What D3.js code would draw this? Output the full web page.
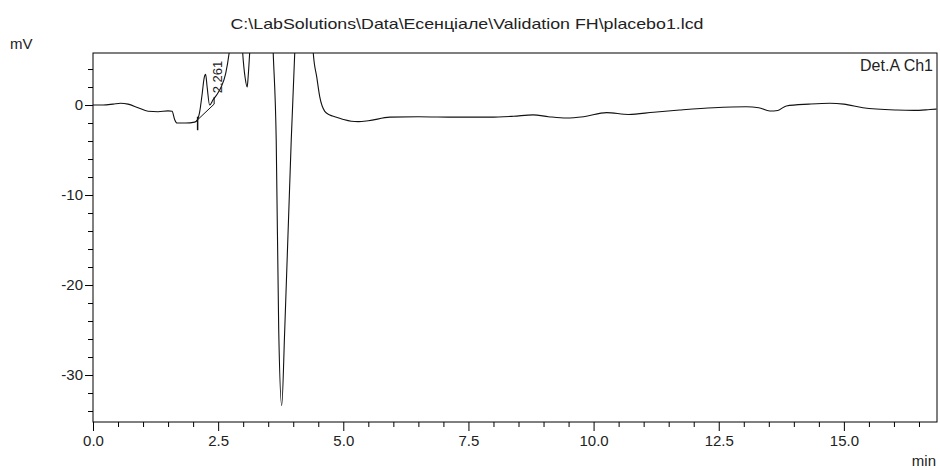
<!DOCTYPE html>
<html>
<head>
<meta charset="utf-8">
<script src="https://cdn.jsdelivr.net/npm/d3@7"></script>
<style>
    body { margin: 0; background: #fff; }
    svg { display: block; font-family: "Liberation Sans", Arial, sans-serif; }
</style>
</head>
<body>
<div id="chart"></div>
<script>
// chromatogram trace (min, mV)
var times = [0.00, 0.20, 0.40, 0.55, 0.70, 0.90, 1.10, 1.30, 1.50, 1.58, 1.63, 1.68, 1.85, 2.03, 2.08,
    2.13, 2.18, 2.22, 2.25, 2.28, 2.33, 2.40, 2.48, 2.56, 2.65, 2.72, 2.80, 2.88, 2.95, 2.99,
    3.04, 3.08, 3.10, 3.13, 3.20, 3.35, 3.50, 3.56, 3.60, 3.66, 3.71, 3.77, 3.83, 3.96, 4.03,
    4.08, 4.20, 4.33, 4.40, 4.47, 4.53, 4.63, 4.73, 4.83, 5.00, 5.16, 5.30, 5.50, 5.93, 6.50,
    7.26, 7.93, 8.40, 8.79, 9.10, 9.46, 9.80, 10.26, 10.70, 11.20, 11.72, 12.40, 13.05, 13.30, 13.52,
    13.68, 13.85, 14.30, 14.72, 15.00, 15.38, 16.05, 16.40, 16.72, 16.85];
var signal = [0.0, 0.0, 0.1, 0.2, 0.1, -0.3, -0.7, -0.75, -0.65, -0.7, -1.6, -2.0, -2.0, -1.9, -1.7,
    -0.8, 1.2, 3.0, 3.4, 2.0, 0.0, 0.6, 1.2, 2.0, 3.5, 5.8, 10, 16, 10, 5.8,
    3.0, 2.0, 3.2, 5.8, 12, 20, 20, 12, 5.8, -3.9, -25, -33.4, -25, -3.9, 5.8,
    14, 20, 14, 5.8, 3.1, 0.9, -0.7, -1.1, -1.3, -1.6, -1.8, -1.85, -1.75, -1.35, -1.3,
    -1.35, -1.35, -1.25, -1.1, -1.3, -1.45, -1.3, -0.85, -1.05, -0.8, -0.56, -0.3, -0.19, -0.3, -0.67,
    -0.6, -0.1, 0.1, 0.2, 0.1, -0.3, -0.56, -0.6, -0.5, -0.45];

var xMajor = [0, 2.5, 5, 7.5, 10, 12.5, 15];
var xMinor = d3.range(0.5, 16.75, 0.5);
var yMajor = [0, -10, -20, -30];
var yMinor = d3.range(4, -35, -2);

var peakTimes = [2.261];
var peakBase = [[2.05, -1.85], [2.42, 0.1]];

var titleText = "C:\\LabSolutions\\Data\\Есенціале\\Validation FH\\placebo1.lcd";

var W = 940, H = 470;
var plot = {left: 93, right: 937, top: 53, bottom: 422};

var x = d3.scaleLinear().domain([0, 16.86]).range([plot.left, plot.right]);
var y = d3.scaleLinear().domain([-35.22, 5.78]).range([plot.bottom, plot.top]);

var svg = d3.select("#chart").append("svg")
    .attr("width", W)
    .attr("height", H);

svg.append("defs").append("clipPath").attr("id", "clip")
    .append("rect")
    .attr("x", plot.left).attr("y", plot.top)
    .attr("width", plot.right - plot.left).attr("height", plot.bottom - plot.top);

// axes
var xAxis = svg.append("g").attr("transform", "translate(0," + plot.bottom + ")")
    .call(d3.axisBottom(x).tickValues(xMajor).tickFormat(d3.format(".1f")).tickSize(9).tickSizeOuter(0));
svg.append("g").attr("transform", "translate(0," + plot.bottom + ")")
    .call(d3.axisBottom(x).tickValues(xMinor.filter(function(d) { return d % 2.5 !== 0; }))
        .tickFormat("").tickSize(5).tickSizeOuter(0))
    .select(".domain").remove();

var yAxis = svg.append("g").attr("transform", "translate(" + plot.left + ",0)")
    .call(d3.axisLeft(y).tickValues(yMajor).tickFormat(function(d) { return String(d); })
        .tickSize(8).tickSizeOuter(0));
svg.append("g").attr("transform", "translate(" + plot.left + ",0)")
    .call(d3.axisLeft(y).tickValues(yMinor.filter(function(d) { return d % 10 !== 0; }))
        .tickFormat("").tickSize(5).tickSizeOuter(0))
    .select(".domain").remove();

svg.selectAll(".tick line, .domain").attr("stroke", "#000");
xAxis.selectAll("text").attr("font-size", 15).attr("fill", "#222")
    .attr("y", 13).attr("dy", "0.71em");
yAxis.selectAll("text").attr("font-size", 15).attr("fill", "#222").attr("x", -10);
xAxis.select(".domain").remove();
yAxis.select(".domain").remove();

// frame
svg.append("rect")
    .attr("x", plot.left).attr("y", plot.top)
    .attr("width", plot.right - plot.left).attr("height", plot.bottom - plot.top)
    .attr("fill", "none")
    .attr("stroke", "#000")
    .attr("stroke-width", 1);

// trace
var pts = times.map(function(t, i) { return [t, signal[i]]; });
var line = d3.line()
    .x(function(d) { return x(d[0]); })
    .y(function(d) { return y(d[1]); })
    .curve(d3.curveMonotoneX);

var g = svg.append("g").attr("clip-path", "url(#clip)");
g.append("path")
    .datum(pts)
    .attr("d", line)
    .attr("fill", "none")
    .attr("stroke", "#111")
    .attr("stroke-width", 1.1);

// integration baseline and peak marks
g.append("path")
    .datum(peakBase)
    .attr("d", d3.line().x(function(d) { return x(d[0]); }).y(function(d) { return y(d[1]); }))
    .attr("fill", "none")
    .attr("stroke", "#111")
    .attr("stroke-width", 1);
g.append("line")
    .attr("x1", x(peakBase[0][0]) + 2).attr("x2", x(peakBase[0][0]) + 2)
    .attr("y1", y(-1.3)).attr("y2", y(-2.8))
    .attr("stroke", "#111")
    .attr("stroke-width", 1.5);
g.append("line")
    .attr("x1", x(peakBase[1][0])).attr("x2", x(peakBase[1][0]))
    .attr("y1", y(0.1)).attr("y2", y(0.9))
    .attr("stroke", "#111");

svg.selectAll(".peak-label")
    .data(peakTimes)
    .enter().append("text")
    .attr("class", "peak-label")
    .attr("transform", function(d) { return "translate(" + (x(d) + 16) + "," + y(1.3) + ") rotate(-90)"; })
    .attr("font-size", 13)
    .attr("fill", "#222")
    .text(function(d) { return d3.format(".3f")(d); });

// texts
var title = svg.append("text")
    .attr("x", 467).attr("y", 29)
    .attr("text-anchor", "middle")
    .attr("font-size", 15)
    .attr("fill", "#222")
    .text(titleText);
title.attr("textLength", 473).attr("lengthAdjust", "spacingAndGlyphs");

svg.append("text")
    .attr("x", 10).attr("y", 49)
    .attr("font-size", 15)
    .attr("fill", "#222")
    .text("mV");

svg.append("text")
    .attr("x", 936).attr("y", 466)
    .attr("text-anchor", "end")
    .attr("font-size", 15)
    .attr("fill", "#222")
    .text("min");

svg.append("text")
    .attr("x", 933).attr("y", 71)
    .attr("text-anchor", "end")
    .attr("font-size", 16)
    .attr("fill", "#222")
    .text("Det.A Ch1");
</script>
</body>
</html>
